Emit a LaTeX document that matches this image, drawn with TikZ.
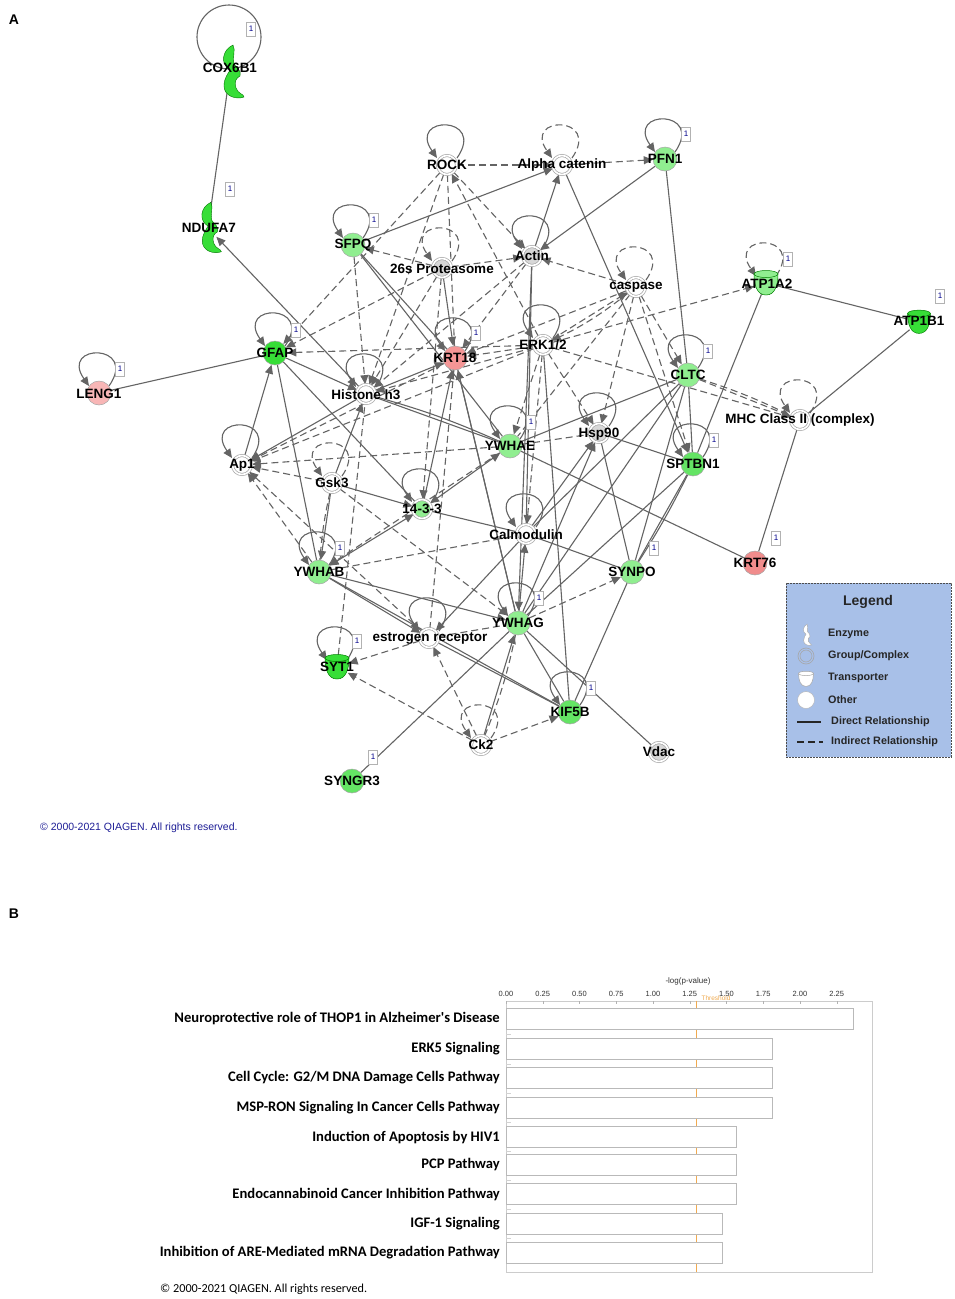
\documentclass[tikz,border=0pt]{standalone}
\usepackage{fontspec}
\setmainfont{Liberation Sans}
\newfontfamily\calib{Carlito}
\usetikzlibrary{arrows.meta,calc}
\pgfdeclarelayer{edges}
\pgfdeclarelayer{labels}
\pgfsetlayers{edges,main,labels}
\definecolor{lg}{RGB}{144,238,144}
\definecolor{mg}{RGB}{100,228,100}
\definecolor{bg}{RGB}{55,222,55}
\definecolor{pk}{RGB}{245,150,150}
\definecolor{pkl}{RGB}{248,182,182}
\definecolor{pkd}{RGB}{240,140,140}
\definecolor{ec}{RGB}{100,100,100}
\definecolor{gg}{RGB}{215,215,215}
\definecolor{legbg}{RGB}{168,192,232}
\definecolor{cpy}{RGB}{30,30,150}
\definecolor{thr}{RGB}{240,170,80}
\newcommand\myloop[2]{\draw[#1] ($(#2)+(10,-7)$) .. controls ($(#2)+(40,-50)$) and ($(#2)+(-40,-50)$) .. ($(#2)+(-10,-7)$);}
\newcommand\enzymeshape[4]{\begin{scope}[shift={#1},scale=#2]
\filldraw[fill=#3,draw=#4,line width=0.4pt] (0,-2) .. controls (-10,-8) and (-8,-22) .. (3,-27) .. controls (6,-22) and (2,-14) .. (4,-8) .. controls (6,-4) and (12,-2) .. (10,4) .. controls (6,6) and (4,10) .. (6,16) .. controls (8,22) and (14,22) .. (14,25) .. controls (6,28) and (-6,24) .. (-6,14) .. controls (-6,6) and (-2,2) .. (0,-2) -- cycle;
\end{scope}}
\newcommand\cupshape[4]{\begin{scope}[shift={#1},scale=#2]
\filldraw[fill=#3,draw=#4,line width=0.5pt] (-12,-9) .. controls (-12,2) and (-9,12) .. (0,12) .. controls (9,12) and (12,2) .. (12,-9) -- cycle;
\filldraw[fill=#3,draw=#4,line width=0.5pt] (0,-9) ellipse [x radius=12, y radius=3.5];
\end{scope}}
\tikzset{
 every node/.style={inner sep=0pt},
 gene/.style={circle,minimum size=24pt,draw=gray!70,line width=0.5pt},
 grp/.style={circle,minimum size=19pt,draw=gray!70,double=white,double distance=1.6pt,line width=0.7pt,fill=white},
 ghost/.style={circle,minimum size=24pt},
 lab/.style={font=\fontsize{13.5}{14}\selectfont\bfseries},
 badge/.style={draw=gray!60,fill=white,minimum width=9pt,minimum height=14pt,font=\fontsize{8}{8}\selectfont,text=blue!55!black},
 sol/.style={draw=ec,line width=1.1pt},
 dsh/.style={draw=ec,line width=1.1pt,dash pattern=on 7pt off 4pt},
 arr/.style={-{Triangle[length=9pt,width=8pt]}},
 darr/.style={{Triangle[length=9pt,width=8pt]}-{Triangle[length=9pt,width=8pt]}},
 leg/.style={anchor=west,font=\fontsize{10.8}{11}\selectfont\bfseries,text=black!85},
 clab/.style={anchor=east,font=\calib\bfseries\fontsize{14.6}{15}\selectfont},
 tick/.style={font=\fontsize{7.5}{8}\selectfont,text=black!80},
 bar/.style={draw=gray!55,fill=white,line width=0.6pt}
}
\begin{document}
\begin{tikzpicture}[x=1pt,y=-1pt]
\useasboundingbox (0,0) rectangle (954,1299);
\begin{pgfonlayer}{edges}
\fill[white] (0,0) rectangle (954,1299);
\end{pgfonlayer}

% ---------- nodes ----------
\node[ghost] (cox) at (230,72) {};
\enzymeshape{(230,72)}{1}{bg}{green!45!black}
\node[ghost] (ndu) at (208,228) {};
\enzymeshape{(208,228)}{0.95}{bg}{green!45!black}
\node[grp] (rock) at (447,165) {};
\node[grp] (alpha) at (562,165) {};
\node[gene,fill=lg] (pfn) at (665,159) {};
\node[gene,fill=lg] (sfpq) at (353,245) {};
\node[grp,fill=gg] (prot) at (442,268) {};
\node[grp,fill=gg] (actin) at (532,256) {};
\node[grp] (casp) at (636,287) {};
\node[ghost] (atpa) at (766,283) {};
\cupshape{(766,283)}{1}{lg}{green!50!black}
\node[ghost] (atpb) at (919,322) {};
\cupshape{(919,322)}{0.95}{bg}{green!50!black}
\node[gene,fill=bg] (gfap) at (275,353) {};
\node[gene,fill=pk] (krt18) at (455,358) {};
\node[grp] (erk) at (543,345) {};
\node[gene,fill=lg] (cltc) at (688,375) {};
\node[gene,fill=pkl] (leng) at (99,393) {};
\node[grp] (hist) at (366,394) {};
\node[grp] (mhc) at (800,420) {};
\node[grp,fill=gg] (hsp) at (599,433) {};
\node[gene,fill=lg] (ywhae) at (510,446) {};
\node[gene,fill=mg] (sptbn) at (693,464) {};
\node[grp] (ap1) at (242,465) {};
\node[grp] (gsk) at (332,483) {};
\node[grp,fill=lg] (g1433) at (422,509) {};
\node[grp] (calm) at (526,534) {};
\node[gene,fill=pkd] (krt76) at (755,563) {};
\node[gene,fill=lg] (ywhab) at (319,572) {};
\node[gene,fill=lg] (synpo) at (632,572) {};
\node[gene,fill=lg] (ywhag) at (518,623) {};
\node[grp] (esr) at (429,638) {};
\node[ghost] (syt) at (337,667) {};
\cupshape{(337,667)}{1}{bg}{green!50!black}
\node[gene,fill=mg] (kif) at (570,712) {};
\node[grp] (ck2) at (481,745) {};
\node[grp,fill=gg] (vdac) at (659,752) {};
\node[gene,fill=mg] (syngr) at (352,781) {};

% ---------- edges ----------
\begin{pgfonlayer}{edges}
\draw[sol] (229,37) circle [radius=32];
\foreach \n in {rock,pfn,sfpq,actin,gfap,krt18,erk,cltc,leng,hist,hsp,ywhae,sptbn,ap1,g1433,calm,ywhab,ywhag,esr,syt,kif}{\myloop{sol,arr}{\n}}
\foreach \n in {alpha,prot,casp,atpa,mhc,gsk,ck2}{\myloop{dsh,arr}{\n}}
% solid
\draw[sol] (cox) -- (ndu);
\draw[sol,arr] (hist) -- (ndu);
\draw[sol] (leng) -- (gfap);
\draw[sol] (atpa) -- (atpb);
\draw[sol] (atpb) -- (mhc);
\draw[sol] (atpa) -- (sptbn);
\draw[sol] (mhc) -- (krt76);
\draw[sol,arr] (pfn) -- (actin);
\draw[sol] (pfn) -- (cltc);
\draw[sol,arr] (sfpq) -- (alpha);
\draw[sol,arr] (actin) -- (alpha);
\draw[sol,arr] (alpha) -- (sptbn);
\draw[sol] (sfpq) -- (ywhae);
\draw[sol,arr] (gfap) -- (hist);
\draw[sol,arr] (ap1) -- (gfap);
\draw[sol] (gfap) -- (ywhab);
\draw[sol] (gfap) -- (g1433);
\draw[sol] (hist) -- (ywhae);
\draw[sol] (hist) to[bend left=4] (ywhae);
\draw[sol,arr] (hist) -- (ap1);
\draw[sol,arr] (hist) -- (krt18);
\draw[sol,arr] (gsk) -- (hist);
\draw[sol,arr] (gsk) -- (g1433);
\draw[sol,arr] (gsk) -- (ywhab);
\draw[sol,darr] (ywhab) -- (g1433);
\draw[sol,darr] (g1433) -- (ywhae);
\draw[sol] (g1433) -- (calm);
\draw[sol,arr] (ywhab) -- (ywhag);
\draw[sol] (ywhab) -- (kif);
\draw[sol,arr] (ywhab) -- (esr);
\draw[sol] (calm) -- (synpo);
\draw[sol,arr] (ywhag) -- (calm);
\draw[sol] (ywhag) -- (kif);
\draw[sol] (ywhag) -- (vdac);
\draw[sol] (ywhag) -- (syngr);
\draw[sol,arr] (ck2) -- (ywhag);
\draw[sol] (esr) -- (kif);
\draw[sol] (kif) -- (synpo);
\draw[sol] (cltc) -- (ywhae);
\draw[sol] (cltc) -- (calm);
\draw[sol] (cltc) -- (ywhag);
\draw[sol] (cltc) -- (synpo);
\draw[sol] (cltc) -- (sptbn);
\draw[sol] (sptbn) -- (synpo);
\draw[sol] (sptbn) to[bend left=3] (synpo);
\draw[sol] (sptbn) -- (ywhag);
\draw[sol] (hsp) -- (sptbn);
\draw[sol] (ywhae) -- (krt76);
\draw[sol,arr] (prot) -- (krt18);
\draw[sol,arr] (g1433) -- (krt18);
\draw[sol,arr] (ywhag) -- (krt18);
\draw[sol,arr] (actin) -- (ywhag);
\draw[sol] (actin) -- (calm);
\draw[sol] (erk) -- (kif);
\draw[sol,arr] (ywhag) -- (hsp);
\draw[sol,arr] (calm) -- (hsp);
\draw[sol,arr] (calm) -- (esr);
\draw[sol] (hsp) -- (synpo);
\draw[sol] (krt18) -- (ywhag);
\draw[sol] (sfpq) -- (krt18);
% dashed
\draw[dsh,arr] (rock) -- (alpha);
\draw[dsh,arr] (alpha) -- (pfn);
\draw[dsh,arr] (rock) -- (actin);
\draw[dsh,arr] (rock) -- (gfap);
\draw[dsh,arr] (rock) -- (hist);
\draw[dsh] (rock) -- (krt18);
\draw[dsh,arr] (erk) -- (rock);
\draw[dsh,arr] (prot) -- (sfpq);
\draw[dsh,arr] (prot) -- (actin);
\draw[dsh,arr] (casp) -- (actin);
\draw[dsh,arr] (erk) -- (atpa);
\draw[dsh,arr] (cltc) -- (mhc);
\draw[dsh] (cltc) to[bend left=4] (mhc);
\draw[dsh,arr] (erk) -- (mhc);
\draw[dsh] (ywhae) -- (hsp);
\draw[dsh,arr] (erk) -- (hsp);
\draw[dsh,arr] (casp) -- (hsp);
\draw[dsh,arr] (casp) -- (cltc);
\draw[dsh,arr] (casp) -- (sptbn);
\draw[dsh,arr] (erk) -- (casp);
\draw[dsh,arr] (casp) to[bend left=6] (erk);
\draw[dsh,arr] (erk) -- (hist);
\draw[dsh,arr] (erk) -- (gfap);
\draw[dsh,arr] (erk) -- (krt18);
\draw[dsh,arr] (prot) -- (gfap);
\draw[dsh,arr] (prot) -- (hist);
\draw[dsh,arr] (actin) -- (hist);
\draw[dsh,arr] (actin) -- (krt18);
\draw[dsh,arr] (casp) -- (krt18);
\draw[dsh,arr] (sfpq) -- (hist);
\draw[dsh,arr] (ywhae) -- (ap1);
\draw[dsh,arr] (krt18) -- (ap1);
\draw[dsh,arr] (erk) -- (ap1);
\draw[dsh,arr] (gsk) -- (ap1);
\draw[dsh,arr] (ywhab) -- (ap1);
\draw[dsh] (gsk) to[bend right=4] (ywhab);
\draw[dsh] (ywhab) -- (calm);
\draw[dsh,arr] (gsk) -- (ywhag);
\draw[dsh,arr] (esr) -- (ap1);
\draw[dsh] (syt) -- (hist);
\draw[dsh,arr] (ck2) -- (esr);
\draw[dsh,arr] (ck2) -- (kif);
\draw[dsh,arr] (ck2) -- (syt);
\draw[dsh] (ck2) to[bend right=5] (ywhag);
\draw[dsh,arr] (esr) -- (syt);
\draw[dsh,arr] (ywhag) -- (synpo);
\draw[dsh] (esr) -- (ywhag);
\draw[dsh] (krt18) -- (esr);
\draw[dsh,arr] (erk) -- (ywhae);
\draw[dsh,arr] (erk) -- (calm);
\draw[dsh] (casp) -- (ywhae);
\draw[dsh,arr] (prot) -- (g1433);
\draw[dsh,arr] (ywhae) -- (ywhab);
\end{pgfonlayer}

% ---------- labels and badges ----------
\begin{pgfonlayer}{labels}
\node[lab] (tcox) at (230,68) {COX6B1};
\node[lab] (tndu) at (209,228) {NDUFA7};
\node[lab] (trock) at (447,165) {ROCK};
\node[lab] (talpha) at (562,165) {Alpha catenin};
\node[lab] (tpfn) at (665,159) {PFN1};
\node[lab] (tsfpq) at (353,245) {SFPQ};
\node[lab] (tprot) at (442,269) {26s Proteasome};
\node[lab] (tactin) at (532,256) {Actin};
\node[lab] (tcasp) at (636,287) {caspase};
\node[lab] (tatpa) at (767,284) {ATP1A2};
\node[lab] (tatpb) at (919,321) {ATP1B1};
\node[lab] (tgfap) at (275,353) {GFAP};
\node[lab] (tkrt18) at (455,358) {KRT18};
\node[lab] (terk) at (543,345) {ERK1/2};
\node[lab] (tcltc) at (688,375) {CLTC};
\node[lab] (tleng) at (99,394) {LENG1};
\node[lab] (thist) at (366,395) {Histone h3};
\node[lab] (tmhc) at (800,420) {MHC Class II (complex)};
\node[lab] (thsp) at (599,434) {Hsp90};
\node[lab] (tywhae) at (510,446) {YWHAE};
\node[lab] (tsptbn) at (693,464) {SPTBN1};
\node[lab] (tap1) at (242,465) {Ap1};
\node[lab] (tgsk) at (332,483) {Gsk3};
\node[lab] (tg1433) at (422,509) {14-3-3};
\node[lab] (tcalm) at (526,535) {Calmodulin};
\node[lab] (tkrt76) at (755,563) {KRT76};
\node[lab] (tywhab) at (319,572) {YWHAB};
\node[lab] (tsynpo) at (632,572) {SYNPO};
\node[lab] (tywhag) at (518,623) {YWHAG};
\node[lab] (tesr) at (430,639) {estrogen receptor};
\node[lab] (tsyt) at (337,667) {SYT1};
\node[lab] (tkif) at (570,712) {KIF5B};
\node[lab] (tck2) at (481,745) {Ck2};
\node[lab] (tvdac) at (659,752) {Vdac};
\node[lab] (tsyngr) at (352,781) {SYNGR3};
\foreach \n/\p in {cox/{(251,29)},ndu/{(230,189)},pfn/{(686,134)},sfpq/{(374,220)},atpa/{(788,259)},atpb/{(940,296)},gfap/{(296,330)},krt18/{(476,333)},cltc/{(708,351)},leng/{(120,369)},ywhae/{(531,422)},sptbn/{(714,440)},krt76/{(776,538)},ywhab/{(340,548)},synpo/{(654,548)},ywhag/{(539,598)},syt/{(357,641)},kif/{(591,688)},syngr/{(373,757)}}{\node[badge] (b\n) at \p {1};}
\end{pgfonlayer}

% panel letters
\node[font=\fontsize{14}{14}\selectfont\bfseries] (pa) at (14,20) {A};
\node[font=\fontsize{14}{14}\selectfont\bfseries] (pb) at (14,914) {B};
\node[anchor=west,font=\fontsize{10.5}{11}\selectfont,text=cpy] (copy1) at (40,828) {© 2000-2021 QIAGEN. All rights reserved.};

% ---------- legend ----------
\node[draw=black!70,dash pattern=on 2pt off 1pt,fill=legbg,line width=0.8pt,minimum width=165pt,minimum height=174pt] (legbox) at (868.5,670) {};
\node[font=\fontsize{14}{14}\selectfont\bfseries,text=black!85] (legt) at (868,602) {Legend};
\enzymeshape{(806,635)}{0.4}{white}{gray!70}
\node[circle,draw=gray!70,double=legbg,double distance=1.2pt,line width=0.7pt,minimum size=14pt] (lgrp) at (806,656) {};
\cupshape{(806,679)}{0.62}{white}{gray!70}
\node[circle,draw=gray!60,fill=white,minimum size=17pt] (loth) at (806,700) {};
\coordinate (ld1) at (797,722); \coordinate (ld2) at (821,722);
\draw[black!85,line width=1.6pt] (ld1) -- (ld2);
\coordinate (li1) at (797,742); \coordinate (li2) at (823,742);
\draw[black!85,line width=1.6pt,dash pattern=on 7pt off 4pt] (li1) -- (li2);
\node[leg] (le1) at (828,634) {Enzyme};
\node[leg] (le2) at (828,656) {Group/Complex};
\node[leg] (le3) at (828,678) {Transporter};
\node[leg] (le4) at (828,700) {Other};
\node[leg] (le5) at (831,722) {Direct Relationship};
\node[leg] (le6) at (831,742) {Indirect Relationship};

% ---------- chart ----------
\node[draw=gray!40,line width=0.6pt,minimum width=366pt,minimum height=271pt] (plot) at (689,1136.5) {};
\node[font=\fontsize{8}{8}\selectfont,text=black!80] (axt) at (688,981) {-log(p-value)};
\foreach \v/\lab in {0/0.00,1/0.25,2/0.50,3/0.75,4/1.00,5/1.25,6/1.50,7/1.75,8/2.00,9/2.25}{
 \node[tick] (tk\v) at (506+36.75*\v,994) {\lab};
 \draw[gray!60,line width=0.5pt] (506+36.75*\v,1001) -- (506+36.75*\v,1004);
}
\draw[thr,line width=0.6pt] (plot.north -| 696,0) -- (plot.south -| 696,0);
\node[font=\fontsize{6.5}{7}\selectfont,text=thr] (thrt) at (716,998.5) {Threshold};
\foreach \yy/\xe in {1019/853,1049/772,1078/772,1108/772,1137/736,1165/736,1194/736,1224/722,1253/722}{
 \draw[bar] (506,\yy-10.5) rectangle (\xe,\yy+10.5);
}
\foreach \yy in {1034,1064,1093,1122,1151,1180,1209,1238}{\draw[gray!35,line width=0.5pt] (506,\yy) -- (511,\yy);}
\node[clab] (r1) at (500,1019) {Neuroprotective role of THOP1 in Alzheimer's Disease};
\node[clab] (r2) at (500,1049) {ERK5 Signaling};
\node[clab] (r3) at (500,1078) {Cell Cycle: G2/M DNA Damage Cells Pathway};
\node[clab] (r4) at (500,1108) {MSP-RON Signaling In Cancer Cells Pathway};
\node[clab] (r5) at (500,1137) {Induction of Apoptosis by HIV1};
\node[clab] (r6) at (500,1165) {PCP Pathway};
\node[clab] (r7) at (500,1194) {Endocannabinoid Cancer Inhibition Pathway};
\node[clab] (r8) at (500,1224) {IGF-1 Signaling};
\node[clab] (r9) at (500,1253) {Inhibition of ARE-Mediated mRNA Degradation Pathway};
\node[anchor=west,font=\calib\fontsize{12.2}{12}\selectfont] (copy2) at (160,1289) {© 2000-2021 QIAGEN. All rights reserved.};
\end{tikzpicture}
\end{document}
